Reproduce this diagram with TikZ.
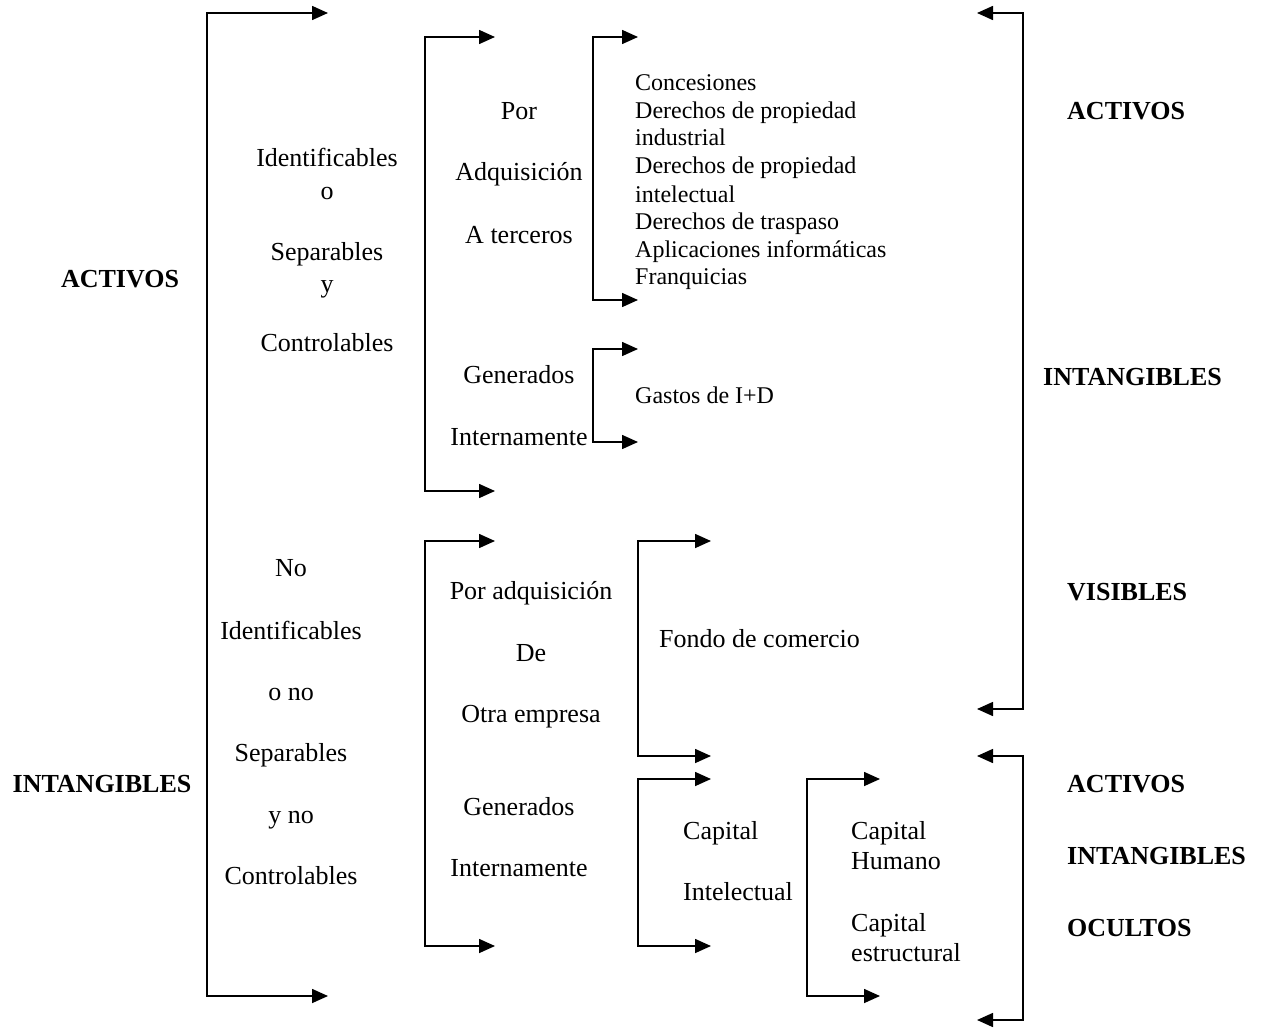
\documentclass[tikz,border=0pt]{standalone}
\usepackage{fontspec}
\setmainfont{Liberation Serif}
\usetikzlibrary{arrows.meta}
\begin{document}
\begin{tikzpicture}[x=1pt,y=-1pt,
  brk/.style={line width=1.6pt,{Triangle[length=16pt,width=14pt]}-{Triangle[length=16pt,width=14pt]}},
  lbl/.style={inner sep=0pt,anchor=base,font=\fontsize{26}{30}\selectfont},
  lbll/.style={inner sep=0pt,anchor=base west,font=\fontsize{26}{30}\selectfont},
  sml/.style={inner sep=0pt,anchor=base west,font=\fontsize{24}{28}\selectfont},
  bld/.style={inner sep=0pt,anchor=base west,font=\fontsize{26}{30}\selectfont\bfseries},
  bldc/.style={inner sep=0pt,anchor=base,font=\fontsize{26}{30}\selectfont\bfseries}]
\useasboundingbox (0,0) rectangle (1265,1027);

% bracket coordinates
\coordinate (a1) at (328,13);  \coordinate (a2) at (328,996);
\coordinate (b1) at (495,37);  \coordinate (b2) at (495,491);
\coordinate (c1) at (638,37);  \coordinate (c2) at (638,300);
\coordinate (d1) at (638,349); \coordinate (d2) at (638,442);
\coordinate (e1) at (495,541); \coordinate (e2) at (495,946);
\coordinate (f1) at (711,541); \coordinate (f2) at (711,756);
\coordinate (g1) at (711,779); \coordinate (g2) at (711,946);
\coordinate (h1) at (880,779); \coordinate (h2) at (880,996);
\coordinate (r1) at (977,13);  \coordinate (r2) at (977,709);
\coordinate (s1) at (977,756); \coordinate (s2) at (977,1020);

\draw[brk] (a1) -- (207,13) -- (207,996) -- (a2);
\draw[brk] (b1) -- (425,37) -- (425,491) -- (b2);
\draw[brk] (c1) -- (593,37) -- (593,300) -- (c2);
\draw[brk] (d1) -- (593,349) -- (593,442) -- (d2);
\draw[brk] (e1) -- (425,541) -- (425,946) -- (e2);
\draw[brk] (f1) -- (638,541) -- (638,756) -- (f2);
\draw[brk] (g1) -- (638,779) -- (638,946) -- (g2);
\draw[brk] (h1) -- (807,779) -- (807,996) -- (h2);
\draw[brk] (r1) -- (1023,13) -- (1023,709) -- (r2);
\draw[brk] (s1) -- (1023,756) -- (1023,1020) -- (s2);

% left labels
\node[bldc] (lact) at (120,287) {ACTIVOS};
\node[bldc] (lint) at (102,792) {INTANGIBLES};

\node[lbl] (t1) at (327,167) {Identificables};
\node[lbl] (t2) at (327,199) {o};
\node[lbl] (t3) at (327,260) {Separables};
\node[lbl] (t4) at (327,292) {y};
\node[lbl] (t5) at (327,351) {Controlables};

\node[lbl] (u1) at (519,120) {Por};
\node[lbl] (u2) at (519,181) {Adquisición};
\node[lbl] (u3) at (519,243) {A terceros};

\node[sml] (l1) at (635,91) {Concesiones};
\node[sml] (l2) at (635,119) {Derechos de propiedad};
\node[sml] (l3) at (635,146) {industrial};
\node[sml] (l4) at (635,174) {Derechos de propiedad};
\node[sml] (l5) at (635,202) {intelectual};
\node[sml] (l6) at (635,229) {Derechos de traspaso};
\node[sml] (l7) at (635,257) {Aplicaciones informáticas};
\node[sml] (l8) at (635,284) {Franquicias};

\node[lbl] (v1) at (519,383) {Generados};
\node[lbl] (v2) at (519,445) {Internamente};
\node[sml] (gid) at (635,403) {Gastos de I+D};

\node[lbl] (w1) at (291,576) {No};
\node[lbl] (w2) at (291,639) {Identificables};
\node[lbl] (w3) at (291,700) {o no};
\node[lbl] (w4) at (291,761) {Separables};
\node[lbl] (w5) at (291,823) {y no};
\node[lbl] (w6) at (291,884) {Controlables};

\node[lbl] (x1) at (531,599) {Por adquisición};
\node[lbl] (x2) at (531,661) {De};
\node[lbl] (x3) at (531,722) {Otra empresa};
\node[lbll] (fc) at (659,647) {Fondo de comercio};

\node[lbl] (y1) at (519,815) {Generados};
\node[lbl] (y2) at (519,876) {Internamente};

\node[lbll] (ci1) at (683,839) {Capital};
\node[lbll] (ci2) at (683,900) {Intelectual};

\node[lbll] (ch1) at (851,839) {Capital};
\node[lbll] (ch2) at (851,869) {Humano};
\node[lbll] (ce1) at (851,931) {Capital};
\node[lbll] (ce2) at (851,961) {estructural};

% right labels
\node[bld] (ra1) at (1067,120) {ACTIVOS};
\node[bld] (ra2) at (1043,385) {INTANGIBLES};
\node[bld] (ra3) at (1067,600) {VISIBLES};
\node[bld] (rb1) at (1067,792) {ACTIVOS};
\node[bld] (rb2) at (1067,864) {INTANGIBLES};
\node[bld] (rb3) at (1067,936) {OCULTOS};
\end{tikzpicture}
\end{document}
